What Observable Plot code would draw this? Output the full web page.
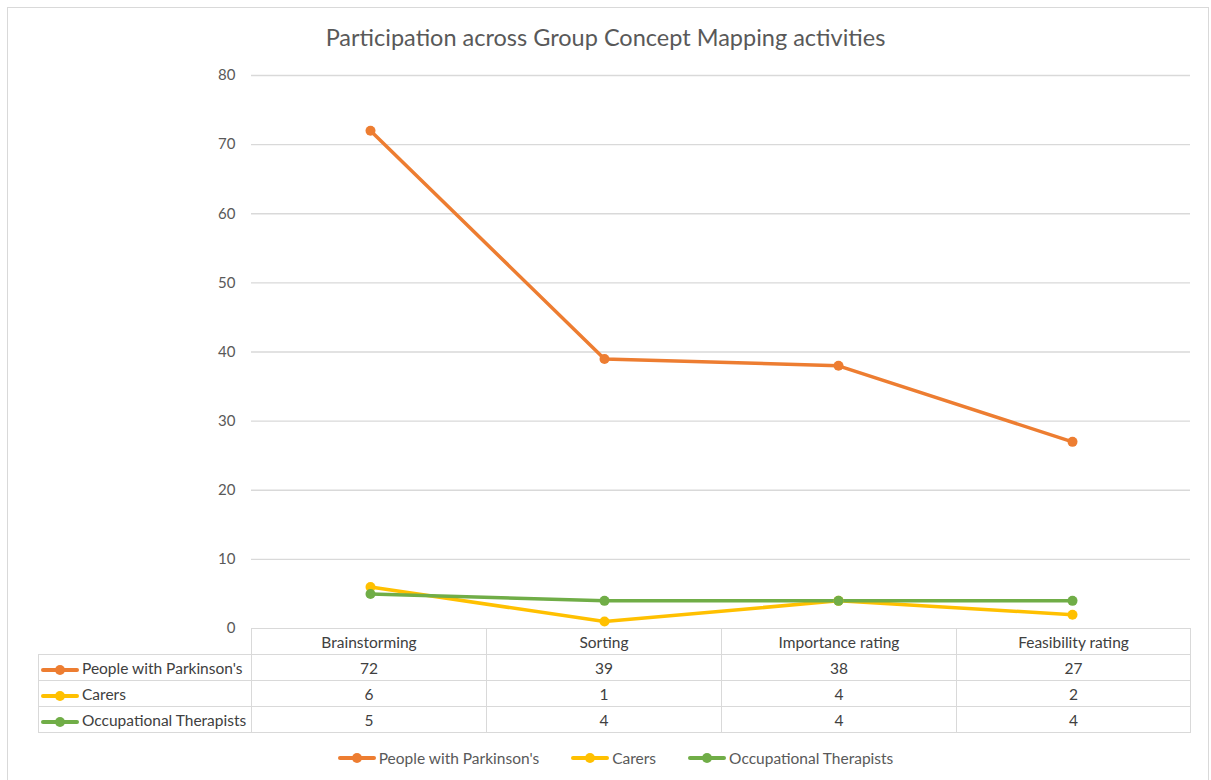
<!DOCTYPE html>
<html>
<head>
<meta charset="utf-8">
<script src="https://cdn.jsdelivr.net/npm/d3@7"></script>
<script src="https://cdn.jsdelivr.net/npm/@observablehq/plot@0.6"></script>
<style>
  html, body { margin: 0; padding: 0; background: #fff; }
  body { width: 1211px; height: 780px; position: relative; overflow: hidden; font-family: Lato, "Open Sans", sans-serif; color: #595959; }
  #frame { position: absolute; left: 7px; top: 7px; width: 1202px; height: 800px; border: 1px solid #d9d9d9; box-sizing: border-box; }
  #title { position: absolute; left: 0; width: 1211px; top: 23px; text-align: center; font-size: 23.5px; color: #595959; }
  #chart { position: absolute; left: 0; top: 0; }
  #table { position: absolute; left: 38px; top: 628px; border-collapse: collapse; table-layout: fixed; width: 1152px; font-size: 15.5px; color: #404040; }
  #table td { border: 1.5px solid #d9d9d9; height: 26px; padding: 0; text-align: center; box-sizing: border-box; }
  #table td.lab { text-align: left; white-space: nowrap; padding-left: 2px; }
  #table td.blank { border: none; }
  .sw { display: inline-block; vertical-align: middle; margin-right: 3px; }
  #legend { position: absolute; left: 10px; width: 1211px; top: 749px; display: flex; justify-content: center; gap: 32px; font-size: 15.5px; color: #595959; }
  #legend .it { display: flex; align-items: center; }
</style>
</head>
<body>
<div id="frame"></div>
<div id="chart"></div>
<div id="title"></div>
<table id="table"><colgroup><col style="width:213px"><col style="width:235px"><col style="width:235px"><col style="width:235px"><col style="width:234px"></colgroup><tbody id="tbody"></tbody></table>
<div id="legend"></div>
<script>
const titleText = "Participation across Group Concept Mapping activities";
const categories = ["Brainstorming", "Sorting", "Importance rating", "Feasibility rating"];
const seriesNames = ["People with Parkinson's", "Carers", "Occupational Therapists"];
const peopleWithParkinsons = [72, 39, 38, 27];
const carers = [6, 1, 4, 2];
const occupationalTherapists = [5, 4, 4, 4];
const colors = ["#ED7D31", "#FFC000", "#70AD47"];
const yTicks = [0, 10, 20, 30, 40, 50, 60, 70, 80];

const seriesValues = [peopleWithParkinsons, carers, occupationalTherapists];
const rows = [];
seriesNames.forEach((s, i) => categories.forEach((c, j) => rows.push({series: s, category: c, value: seriesValues[i][j]})));

document.getElementById("title").textContent = titleText;

const chart = Plot.plot({
  width: 1211,
  height: 640,
  marginLeft: 251,
  marginRight: 21,
  marginTop: 75,
  marginBottom: 12,
  style: {fontFamily: "Lato, 'Open Sans', sans-serif", fontSize: "15px", color: "#595959", background: "transparent"},
  x: {type: "point", domain: categories, padding: 0.5, axis: null},
  y: {domain: [0, 80], ticks: yTicks, tickSize: 0, tickPadding: 16, label: null},
  color: {domain: seriesNames, range: colors},
  marks: [
    Plot.ruleY(yTicks.filter(t => t > 0), {stroke: "#d9d9d9", strokeWidth: 1.3}),
    Plot.line(rows, {x: "category", y: "value", z: "series", stroke: "series", strokeWidth: 3.5, strokeLinejoin: "round", strokeLinecap: "round"}),
    Plot.dot(rows, {x: "category", y: "value", fill: "series", r: 5, stroke: "none"})
  ]
});
document.getElementById("chart").appendChild(chart);

function swatch(color) {
  return `<svg class="sw" width="38" height="12"><line x1="2" y1="6" x2="36" y2="6" stroke="${color}" stroke-width="4" stroke-linecap="round"/><circle cx="19" cy="6" r="5" fill="${color}"/></svg>`;
}

let html = `<tr><td class="blank lab"></td>${categories.map(c => `<td>${c}</td>`).join("")}</tr>`;
seriesNames.forEach((s, i) => {
  html += `<tr><td class="lab">${swatch(colors[i])}${s.replace(/'/g, "&#39;")}</td>${seriesValues[i].map(v => `<td>${v}</td>`).join("")}</tr>`;
});
document.getElementById("tbody").innerHTML = html;

document.getElementById("legend").innerHTML = seriesNames.map((s, i) => `<div class="it">${swatch(colors[i])}<span>${s}</span></div>`).join("");
</script>
</body>
</html>
